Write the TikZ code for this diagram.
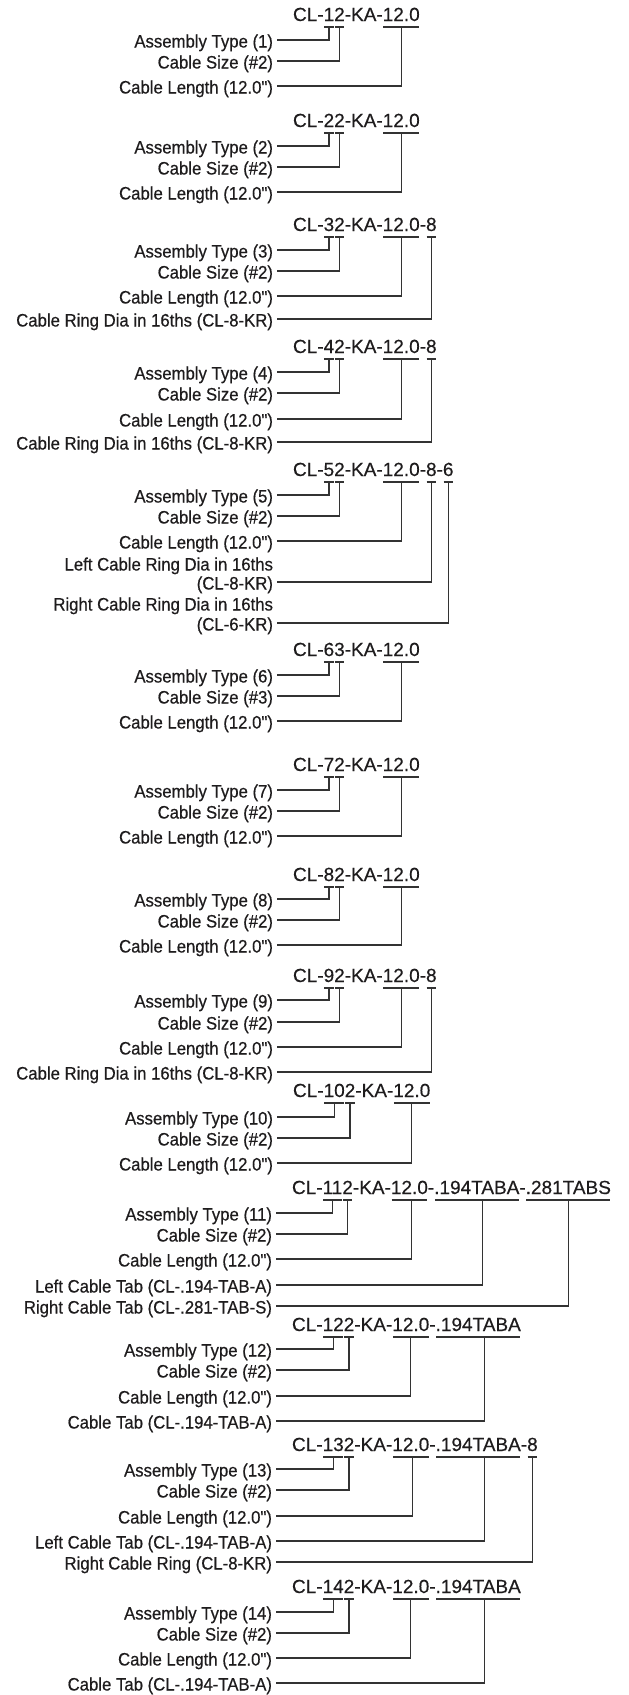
\documentclass[tikz,border=0pt]{standalone}
\usepackage{fontspec}
\newfontfamily\labfont[FakeStretch=0.93,FakeBold=0.5]{Liberation Sans}
\newfontfamily\codefont[FakeBold=0.4]{Liberation Sans}
\definecolor{ink}{HTML}{1E1C1D}
\definecolor{wirec}{HTML}{333333}
\tikzset{
  wire/.style={draw=wirec,line width=1.2pt},
  lab/.style={anchor=east,inner sep=0pt,outer xsep=4pt,text height=15pt,text depth=0pt,text=ink,font=\labfont\fontsize{18}{22}\selectfont},
  code/.style={anchor=base west,inner sep=0pt,outer sep=0pt,text depth=6pt,text=ink,font=\codefont\fontsize{19}{23}\selectfont},
  ul/.style={code,append after command={([xshift=0.6pt]\tikzlastnode.south west) edge[wire] ([xshift=-0.6pt]\tikzlastnode.south east)}}
}
\begin{document}
\begin{tikzpicture}[x=1pt,y=-1pt]
\useasboundingbox (0,0) rectangle (629,1695);

% CL-12-KA-12.0
\node[code] (K1) at (293,21) {CL-};
\node[ul] (t1) at (K1.base east) {1};
\node[ul] (s1) at (t1.base east) {2};
\node[code] (K1b) at (s1.base east) {-KA-};
\node[ul] (n1) at (K1b.base east) {12.0};
\node[lab] (A1) at (277,40) {Assembly Type (1)};
\node[lab] (S1) at (277,61) {Cable Size (\#2)};
\node[lab] (L1) at (277,86) {Cable Length (12.0")};
\draw[wire] (A1) -| (t1);
\draw[wire] (S1) -| (s1);
\draw[wire] (L1) -| (n1);

% CL-22-KA-12.0
\node[code] (K2) at (293,127) {CL-};
\node[ul] (t2) at (K2.base east) {2};
\node[ul] (s2) at (t2.base east) {2};
\node[code] (K2b) at (s2.base east) {-KA-};
\node[ul] (n2) at (K2b.base east) {12.0};
\node[lab] (A2) at (277,146) {Assembly Type (2)};
\node[lab] (S2) at (277,167) {Cable Size (\#2)};
\node[lab] (L2) at (277,192) {Cable Length (12.0")};
\draw[wire] (A2) -| (t2);
\draw[wire] (S2) -| (s2);
\draw[wire] (L2) -| (n2);

% CL-32-KA-12.0-8
\node[code] (K3) at (293,231) {CL-};
\node[ul] (t3) at (K3.base east) {3};
\node[ul] (s3) at (t3.base east) {2};
\node[code] (K3b) at (s3.base east) {-KA-};
\node[ul] (n3) at (K3b.base east) {12.0};
\node[code] (K3c) at (n3.base east) {-};
\node[ul] (r3) at (K3c.base east) {8};
\node[lab] (A3) at (277,250) {Assembly Type (3)};
\node[lab] (S3) at (277,271) {Cable Size (\#2)};
\node[lab] (L3) at (277,296) {Cable Length (12.0")};
\node[lab] (R3) at (277,319) {Cable Ring Dia in 16ths (CL-8-KR)};
\draw[wire] (A3) -| (t3);
\draw[wire] (S3) -| (s3);
\draw[wire] (L3) -| (n3);
\draw[wire] (R3) -| (r3);

% CL-42-KA-12.0-8
\node[code] (K4) at (293,353) {CL-};
\node[ul] (t4) at (K4.base east) {4};
\node[ul] (s4) at (t4.base east) {2};
\node[code] (K4b) at (s4.base east) {-KA-};
\node[ul] (n4) at (K4b.base east) {12.0};
\node[code] (K4c) at (n4.base east) {-};
\node[ul] (r4) at (K4c.base east) {8};
\node[lab] (A4) at (277,372) {Assembly Type (4)};
\node[lab] (S4) at (277,393) {Cable Size (\#2)};
\node[lab] (L4) at (277,419) {Cable Length (12.0")};
\node[lab] (R4) at (277,442) {Cable Ring Dia in 16ths (CL-8-KR)};
\draw[wire] (A4) -| (t4);
\draw[wire] (S4) -| (s4);
\draw[wire] (L4) -| (n4);
\draw[wire] (R4) -| (r4);

% CL-52-KA-12.0-8-6
\node[code] (K5) at (293,476) {CL-};
\node[ul] (t5) at (K5.base east) {5};
\node[ul] (s5) at (t5.base east) {2};
\node[code] (K5b) at (s5.base east) {-KA-};
\node[ul] (n5) at (K5b.base east) {12.0};
\node[code] (K5c) at (n5.base east) {-};
\node[ul] (r5) at (K5c.base east) {8};
\node[code] (K5d) at (r5.base east) {-};
\node[ul] (q5) at (K5d.base east) {6};
\node[lab] (A5) at (277,495) {Assembly Type (5)};
\node[lab] (S5) at (277,516) {Cable Size (\#2)};
\node[lab] (L5) at (277,541) {Cable Length (12.0")};
\node[lab] (R5a) at (277,563) {Left Cable Ring Dia in 16ths};
\node[lab] (R5) at (277,582) {(CL-8-KR)};
\node[lab] (Q5a) at (277,603) {Right Cable Ring Dia in 16ths};
\node[lab] (Q5) at (277,623) {(CL-6-KR)};
\draw[wire] (A5) -| (t5);
\draw[wire] (S5) -| (s5);
\draw[wire] (L5) -| (n5);
\draw[wire] (R5) -| (r5);
\draw[wire] (Q5) -| (q5);

% CL-63-KA-12.0
\node[code] (K6) at (293,656) {CL-};
\node[ul] (t6) at (K6.base east) {6};
\node[ul] (s6) at (t6.base east) {3};
\node[code] (K6b) at (s6.base east) {-KA-};
\node[ul] (n6) at (K6b.base east) {12.0};
\node[lab] (A6) at (277,675) {Assembly Type (6)};
\node[lab] (S6) at (277,696) {Cable Size (\#3)};
\node[lab] (L6) at (277,721) {Cable Length (12.0")};
\draw[wire] (A6) -| (t6);
\draw[wire] (S6) -| (s6);
\draw[wire] (L6) -| (n6);

% CL-72-KA-12.0
\node[code] (K7) at (293,771) {CL-};
\node[ul] (t7) at (K7.base east) {7};
\node[ul] (s7) at (t7.base east) {2};
\node[code] (K7b) at (s7.base east) {-KA-};
\node[ul] (n7) at (K7b.base east) {12.0};
\node[lab] (A7) at (277,790) {Assembly Type (7)};
\node[lab] (S7) at (277,811) {Cable Size (\#2)};
\node[lab] (L7) at (277,836) {Cable Length (12.0")};
\draw[wire] (A7) -| (t7);
\draw[wire] (S7) -| (s7);
\draw[wire] (L7) -| (n7);

% CL-82-KA-12.0
\node[code] (K8) at (293,881) {CL-};
\node[ul] (t8) at (K8.base east) {8};
\node[ul] (s8) at (t8.base east) {2};
\node[code] (K8b) at (s8.base east) {-KA-};
\node[ul] (n8) at (K8b.base east) {12.0};
\node[lab] (A8) at (277,899) {Assembly Type (8)};
\node[lab] (S8) at (277,920) {Cable Size (\#2)};
\node[lab] (L8) at (277,945) {Cable Length (12.0")};
\draw[wire] (A8) -| (t8);
\draw[wire] (S8) -| (s8);
\draw[wire] (L8) -| (n8);

% CL-92-KA-12.0-8
\node[code] (K9) at (293,982) {CL-};
\node[ul] (t9) at (K9.base east) {9};
\node[ul] (s9) at (t9.base east) {2};
\node[code] (K9b) at (s9.base east) {-KA-};
\node[ul] (n9) at (K9b.base east) {12.0};
\node[code] (K9c) at (n9.base east) {-};
\node[ul] (r9) at (K9c.base east) {8};
\node[lab] (A9) at (277,1000) {Assembly Type (9)};
\node[lab] (S9) at (277,1022) {Cable Size (\#2)};
\node[lab] (L9) at (277,1047) {Cable Length (12.0")};
\node[lab] (R9) at (277,1072) {Cable Ring Dia in 16ths (CL-8-KR)};
\draw[wire] (A9) -| (t9);
\draw[wire] (S9) -| (s9);
\draw[wire] (L9) -| (n9);
\draw[wire] (R9) -| (r9);

% CL-102-KA-12.0
\node[code] (K10) at (293,1097) {CL-};
\node[ul] (t10) at (K10.base east) {10};
\node[ul] (s10) at (t10.base east) {2};
\node[code] (K10b) at (s10.base east) {-KA-};
\node[ul] (n10) at (K10b.base east) {12.0};
\node[lab] (A10) at (277,1117) {Assembly Type (10)};
\node[lab] (S10) at (277,1138) {Cable Size (\#2)};
\node[lab] (L10) at (277,1163) {Cable Length (12.0")};
\draw[wire] (A10) -| (t10);
\draw[wire] (S10) -| (s10);
\draw[wire] (L10) -| (n10);

% CL-112-KA-12.0-.194TABA-.281TABS
\node[code] (K11) at (292,1194) {CL-};
\node[ul] (t11) at (K11.base east) {11};
\node[ul] (s11) at (t11.base east) {2};
\node[code] (K11b) at (s11.base east) {-KA-};
\node[ul] (n11) at (K11b.base east) {12.0};
\node[code] (K11c) at (n11.base east) {-};
\node[ul] (a11) at (K11c.base east) {.194TABA};
\node[code] (K11d) at (a11.base east) {-};
\node[ul] (b11) at (K11d.base east) {.281TABS};
\node[lab] (A11) at (276,1213) {Assembly Type (11)};
\node[lab] (S11) at (276,1234) {Cable Size (\#2)};
\node[lab] (L11) at (276,1259) {Cable Length (12.0")};
\node[lab] (R11) at (276,1285) {Left Cable Tab (CL-.194-TAB-A)};
\node[lab] (Q11) at (276,1306) {Right Cable Tab (CL-.281-TAB-S)};
\draw[wire] (A11) -| (t11);
\draw[wire] (S11) -| (s11);
\draw[wire] (L11) -| ([xshift=2pt]n11.south);
\draw[wire] (R11) -| ([xshift=6pt]a11.south);
\draw[wire] (Q11) -| (b11);

% CL-122-KA-12.0-.194TABA
\node[code] (K12) at (292,1331) {CL-};
\node[ul] (t12) at (K12.base east) {12};
\node[ul] (s12) at (t12.base east) {2};
\node[code] (K12b) at (s12.base east) {-KA-};
\node[ul] (n12) at (K12b.base east) {12.0};
\node[code] (K12c) at (n12.base east) {-};
\node[ul] (a12) at (K12c.base east) {.194TABA};
\node[lab] (A12) at (276,1349) {Assembly Type (12)};
\node[lab] (S12) at (276,1370) {Cable Size (\#2)};
\node[lab] (L12) at (276,1396) {Cable Length (12.0")};
\node[lab] (R12) at (276,1421) {Cable Tab (CL-.194-TAB-A)};
\draw[wire] (A12) -| (t12);
\draw[wire] (S12) -| (s12);
\draw[wire] (L12) -| (n12);
\draw[wire] (R12) -| ([xshift=6pt]a12.south);

% CL-132-KA-12.0-.194TABA-8
\node[code] (K13) at (292,1451) {CL-};
\node[ul] (t13) at (K13.base east) {13};
\node[ul] (s13) at (t13.base east) {2};
\node[code] (K13b) at (s13.base east) {-KA-};
\node[ul] (n13) at (K13b.base east) {12.0};
\node[code] (K13c) at (n13.base east) {-};
\node[ul] (a13) at (K13c.base east) {.194TABA};
\node[code] (K13d) at (a13.base east) {-};
\node[ul] (r13) at (K13d.base east) {8};
\node[lab] (A13) at (276,1469) {Assembly Type (13)};
\node[lab] (S13) at (276,1490) {Cable Size (\#2)};
\node[lab] (L13) at (276,1516) {Cable Length (12.0")};
\node[lab] (R13) at (276,1541) {Left Cable Tab (CL-.194-TAB-A)};
\node[lab] (Q13) at (276,1562) {Right Cable Ring (CL-8-KR)};
\draw[wire] (A13) -| (t13);
\draw[wire] (S13) -| (s13);
\draw[wire] (L13) -| ([xshift=2pt]n13.south);
\draw[wire] (R13) -| ([xshift=6pt]a13.south);
\draw[wire] (Q13) -| (r13);

% CL-142-KA-12.0-.194TABA
\node[code] (K14) at (292,1593) {CL-};
\node[ul] (t14) at (K14.base east) {14};
\node[ul] (s14) at (t14.base east) {2};
\node[code] (K14b) at (s14.base east) {-KA-};
\node[ul] (n14) at (K14b.base east) {12.0};
\node[code] (K14c) at (n14.base east) {-};
\node[ul] (a14) at (K14c.base east) {.194TABA};
\node[lab] (A14) at (276,1612) {Assembly Type (14)};
\node[lab] (S14) at (276,1633) {Cable Size (\#2)};
\node[lab] (L14) at (276,1658) {Cable Length (12.0")};
\node[lab] (R14) at (276,1683) {Cable Tab (CL-.194-TAB-A)};
\draw[wire] (A14) -| (t14);
\draw[wire] (S14) -| (s14);
\draw[wire] (L14) -| (n14);
\draw[wire] (R14) -| ([xshift=6pt]a14.south);
\end{tikzpicture}
\end{document}
